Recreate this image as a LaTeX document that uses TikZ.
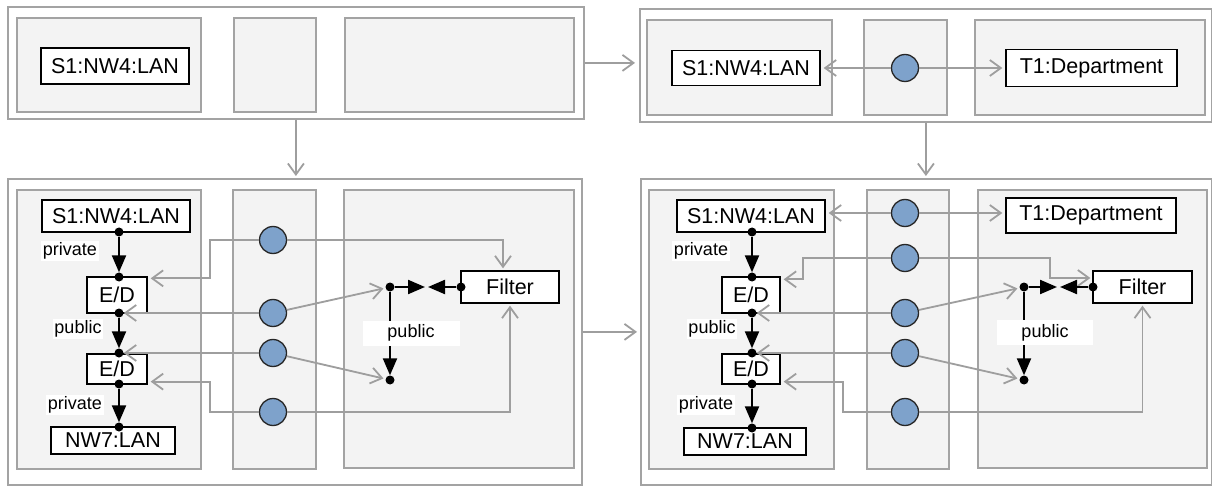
\documentclass[tikz,border=0pt]{standalone}
\usepackage{fontspec}
\setmainfont{Liberation Sans}
\usetikzlibrary{arrows.meta,calc}
\definecolor{pfill}{RGB}{243,243,243}
\definecolor{pline}{RGB}{163,163,163}
\definecolor{gcol}{RGB}{158,158,158}
\definecolor{cfill}{RGB}{126,162,203}
\begin{document}
\begin{tikzpicture}[x=1pt,y=-1pt,
 outer/.style={draw=pline,line width=1.8pt,fill=white,inner sep=0,anchor=north west},
 panel/.style={draw=pline,line width=1.8pt,fill=pfill,inner sep=0,anchor=north west},
 elem/.style={draw=black,line width=1.3pt,fill=white,inner sep=0,font=\fontsize{21.5}{24}\selectfont},
 lbl/.style={fill=white,inner sep=1.5pt,font=\fontsize{18}{20}\selectfont},
 circ/.style={circle,draw=black!85,line width=1.3pt,fill=cfill,minimum size=27pt,inner sep=0},
 dot/.style={circle,fill=black,minimum size=9pt,inner sep=0},
 garr/.style={draw=gcol,line width=1.8pt,-{Straight Barb[length=11pt,width=16pt,line width=1.8pt]}},
 barr/.style={draw=black,line width=2.2pt,-{Triangle[length=17pt,width=14pt]}},
]
\useasboundingbox (0,0) rectangle (1212,486);

% ---------- outer panels ----------
\node[outer,minimum width=576,minimum height=112] (TL) at (7,6) {};
\node[outer,minimum width=572,minimum height=113] (TR) at (639,8) {};
\node[outer,minimum width=574,minimum height=306] (BL) at (7,178) {};
\node[outer,minimum width=571,minimum height=306] (BR) at (640,178) {};

% ---------- inner panels ----------
\node[panel,minimum width=184,minimum height=94] (TLa) at (16,17) {};
\node[panel,minimum width=82,minimum height=94] (TLb) at (233,17) {};
\node[panel,minimum width=229,minimum height=94] (TLc) at (344,17) {};

\node[panel,minimum width=185,minimum height=95] (TRa) at (646,19) {};
\node[panel,minimum width=83,minimum height=95] (TRb) at (863,19) {};
\node[panel,minimum width=230,minimum height=95] (TRc) at (974,19) {};

\node[panel,minimum width=184,minimum height=279] (BLa) at (16,189) {};
\node[panel,minimum width=83,minimum height=279] (BLb) at (232,189) {};
\node[panel,minimum width=230,minimum height=278] (BLc) at (343,189) {};

\node[panel,minimum width=185,minimum height=279] (BRa) at (648,189) {};
\node[panel,minimum width=82,minimum height=279] (BRb) at (866,189) {};
\node[panel,minimum width=229,minimum height=278] (BRc) at (977,189) {};

% ---------- arrows between outer panels ----------
\draw[garr,shorten >=4pt] (TL.east) -- (TL.east -| TR.west);
\draw[garr,shorten >=2pt] (TL.south) -- (TL.south |- BL.north);
\draw[garr,shorten >=2pt] (TR.south) -- (TR.south |- BR.north);
\draw[garr,shorten >=3pt] (BL.east) -- (BL.east -| BR.west);

% ---------- top-left ----------
\node[elem,minimum width=148,minimum height=36] (S1a) at (115,66) {S1:NW4:LAN};

% ---------- top-right ----------
\node[elem,minimum width=148,minimum height=35] (S1b) at (746,68) {S1:NW4:LAN};
\node[elem,minimum width=171,minimum height=37] (T1b) at (1091.5,68) {T1:Department};
\node[circ] (k0) at (905,68) {};
\draw[garr,shorten >=3pt] (k0) -- (S1b);
\draw[garr,shorten >=3pt] (k0) -- (T1b);

% ---------- bottom-left ----------
\node[elem,minimum width=148,minimum height=32] (S1c) at (116,216) {S1:NW4:LAN};
\node[elem,minimum width=60,minimum height=36] (E1c) at (117,295) {E/D};
\node[elem,minimum width=60,minimum height=30] (E2c) at (117,369) {E/D};
\node[elem,minimum width=124,minimum height=27] (N7c) at (113,440.5) {NW7:LAN};
\node[elem,minimum width=98,minimum height=32] (Fc) at (510,287) {Filter};

\node[dot] (d1) at (119,232) {};
\node[dot] (d2) at (119,277) {};
\node[dot] (d3) at (119,313) {};
\node[dot] (d4) at (119,353) {};
\node[dot] (d5) at (119,384) {};
\node[dot] (d6) at (119,427) {};
\node[dot] (Jc) at (390,287) {};
\node[dot] (Bc) at (390,380) {};
\node[dot] (FLc) at (461,287) {};
\coordinate (Mac) at (425,287);
\coordinate (Mbc) at (428,287);

\node[circ] (c1) at (273,240) {};
\node[circ] (c2) at (273,313) {};
\node[circ] (c3) at (273,353) {};
\node[circ] (c4) at (273,412) {};

\draw[garr] (c1) -- (210,240) |- ($(E1c.north east)+(3,2)$);
\draw[garr] (c1) -| ($(Fc.north)+(-7,-2)$);
\draw[garr] (c2) -- (d3);
\draw[garr,shorten >=2pt] (c2) -- (Jc);
\draw[garr] (c3) -- (d4);
\draw[garr,shorten >=2pt] (c3) -- (Bc);
\draw[garr] (c4) -- (210,412) |- ($(E2c.south east)+(3,-3)$);
\draw[garr] (c4) -| ($(Fc.south)+(0,2)$);

\draw[barr] (d1) -- (d2);
\draw[barr] (d3) -- (d4);
\draw[barr] (d5) -- (d6);
\draw[barr] (Jc) -- (Mac);
\draw[barr] (FLc) -- (Mbc);
\draw[barr] (Jc) -- (Bc);

\node[lbl] (l1c) at (70,251) {private};
\node[lbl] (l2c) at (78,329) {public};
\node[lbl] (l3c) at (75,405) {private};
\node[lbl,minimum width=97,minimum height=25] (l4c) at (411,333) {public};

% ---------- bottom-right ----------
\node[elem,minimum width=148,minimum height=32] (S1d) at (751,216) {S1:NW4:LAN};
\node[elem,minimum width=58,minimum height=36] (E1d) at (751,295) {E/D};
\node[elem,minimum width=58,minimum height=30] (E2d) at (751,369) {E/D};
\node[elem,minimum width=122,minimum height=27] (N7d) at (745,441.5) {NW7:LAN};
\node[elem,minimum width=170,minimum height=35] (T1d) at (1091,215.5) {T1:Department};
\node[elem,minimum width=99,minimum height=32] (Fd) at (1142.5,287) {Filter};

\node[dot] (e1) at (752,232) {};
\node[dot] (e2) at (752,277) {};
\node[dot] (e3) at (752,313) {};
\node[dot] (e4) at (752,353) {};
\node[dot] (e5) at (752,384) {};
\node[dot] (e6) at (752,428) {};
\node[dot] (Jd) at (1024,287) {};
\node[dot] (Bd) at (1024,380) {};
\node[dot] (FLd) at (1093,287) {};
\coordinate (Mad) at (1057,287);
\coordinate (Mbd) at (1060,287);

\node[circ] (k1) at (905,213) {};
\node[circ] (k2) at (905,258) {};
\node[circ] (k3) at (905,313) {};
\node[circ] (k4) at (905,353) {};
\node[circ] (k5) at (905,412) {};

\draw[garr,shorten >=3pt] (k1) -- (k1 -| S1d.east);
\draw[garr,shorten >=3pt] (k1) -- (k1 -| T1d.west);
\draw[garr] (k2) -- (803,258) |- ($(E1d.north east)+(3,3)$);
\draw[garr] (k2) -- (1050,258) |- ($(Fd.west)+(-2,-9)$);
\draw[garr] (k3) -- (e3);
\draw[garr,shorten >=2pt] (k3) -- (Jd);
\draw[garr] (k4) -- (e4);
\draw[garr,shorten >=2pt] (k4) -- (Bd);
\draw[garr] (k5) -- (843,412) |- ($(E2d.south east)+(3,-3)$);
\draw[garr] (k5) -| ($(Fd.south)+(0,2)$);

\draw[barr] (e1) -- (e2);
\draw[barr] (e3) -- (e4);
\draw[barr] (e5) -- (e6);
\draw[barr] (Jd) -- (Mad);
\draw[barr] (FLd) -- (Mbd);
\draw[barr] (Jd) -- (Bd);

\node[lbl] (l1d) at (701,251) {private};
\node[lbl] (l2d) at (712,329) {public};
\node[lbl] (l3d) at (706,405) {private};
\node[lbl,minimum width=96,minimum height=25] (l4d) at (1045,332.5) {public};
\end{tikzpicture}
\end{document}
